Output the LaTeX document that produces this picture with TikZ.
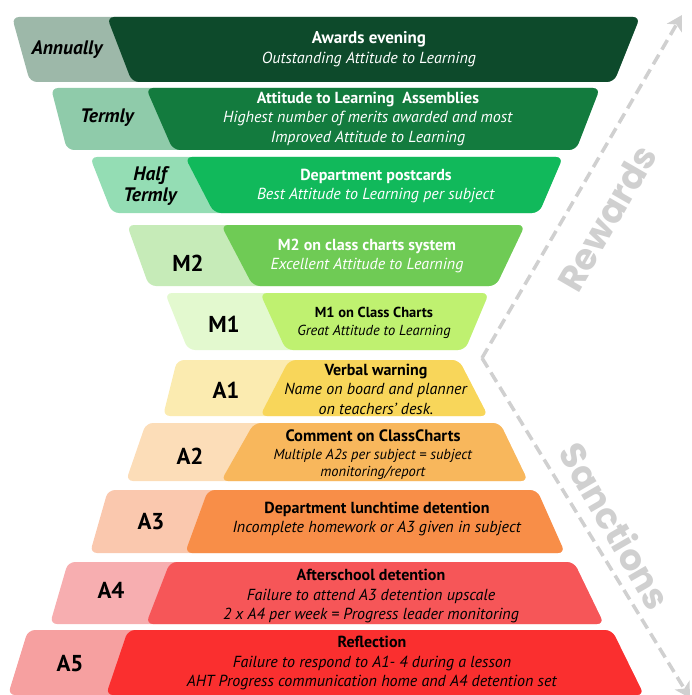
\documentclass[tikz,border=0pt]{standalone}
\usepackage{fontspec}
\setmainfont{PT Sans}
\newfontfamily\trackfont{Poppins}
\usepackage{color}
\usepackage{tikz}
\usetikzlibrary{arrows.meta}
\definecolor{annualback}{RGB}{157,184,169}
\definecolor{annualfront}{RGB}{13,74,43}
\definecolor{termback}{RGB}{143,203,170}
\definecolor{termfront}{RGB}{19,123,62}
\definecolor{halfback}{RGB}{148,221,180}
\definecolor{halffront}{RGB}{17,185,91}
\definecolor{mtwoback}{RGB}{198,235,184}
\definecolor{mtwofront}{RGB}{111,203,85}
\definecolor{moneback}{RGB}{227,249,207}
\definecolor{monefront}{RGB}{191,241,112}
\definecolor{aoneback}{RGB}{251,235,176}
\definecolor{aonefront}{RGB}{248,214,90}
\definecolor{atwoback}{RGB}{252,221,184}
\definecolor{atwofront}{RGB}{248,183,92}
\definecolor{athreeback}{RGB}{250,200,174}
\definecolor{athreefront}{RGB}{248,142,72}
\definecolor{afourback}{RGB}{247,174,176}
\definecolor{afourfront}{RGB}{246,86,88}
\definecolor{afiveback}{RGB}{246,160,160}
\definecolor{afivefront}{RGB}{250,47,47}
\definecolor{trackgrey}{RGB}{208,208,208}

\begin{document}
\begin{tikzpicture}[x=1pt,y=-1pt,
  band/.style={rounded corners=7pt},
  msg/.style={align=center,text=white,font=\fontsize{16}{19.5}\selectfont},
  lvl/.style={font=\fontsize{23}{26}\selectfont\bfseries},
  freq/.style={align=center,font=\fontsize{19.5}{21}\selectfont\bfseries\itshape},
  track/.style={draw=trackgrey,line width=3.5pt,dash pattern=on 11pt off 6pt,
    -{Stealth[length=15pt,width=17pt,inset=4pt]}},
  tracklabel/.style={text=trackgrey,font=\trackfont\fontsize{36}{38}\selectfont\bfseries}]
\useasboundingbox (0,0) rectangle (692,695);
\clip (0,0) rectangle (692,695);
% one band per level: y top / y bottom / light left / dark left / right edge
\foreach \ya/\yb/\xa/\xb/\xc/\xd/\xe/\xf/\lite/\dark in
  {17/82/12/30/107/132/640/614/annualback/annualfront,
   88/150/51/67/146/173/600/576/termback/termfront,
   157/213/90/112/185/214/563/539/halfback/halffront,
   225/286/127/149/221/253/525/496/mtwoback/mtwofront,
   293/350/165/188/260/286/489/465/moneback/monefront,
   360/416/177/163/289/260/459/488/aoneback/aonefront,
   423/481/146/126/254/221/500/528/atwoback/atwofront,
   490/553/108/90/208/185/537/565/athreeback/athreefront,
   562/624/68/50/170/146/574/604/afourback/afourfront,
   630/695/28/8/128/106/612/644/afiveback/afivefront}
{
  \fill[band,\lite] (\xa,\ya) -- (\xe,\ya) -- (\xf,\yb) -- (\xb,\yb) -- cycle;
  \fill[band,\dark] (\xc,\ya) -- (\xe,\ya) -- (\xf,\yb) -- (\xd,\yb) -- cycle;
}

% rewards
\node[freq] (annually) at (67,50) {Annually};
\node[msg,font=\fontsize{16}{20}\selectfont] (awards) at (369,49) {{\fontsize{17}{20}\selectfont\textbf{Awards evening}}\\\textit{Outstanding Attitude to Learning}};
\node[freq] (termly) at (107,118) {Termly};
\node[msg] (assemblies) at (368,119) {\textbf{Attitude to Learning\ \ Assemblies}\\\textit{Highest number of merits awarded and most}\\\textit{Improved Attitude to Learning}};
\node[freq] (halftermly) at (150,186) {Half\\Termly};
\node[msg] (postcards) at (376,186) {\textbf{Department postcards}\\\textit{Best Attitude to Learning per subject}};
\node[lvl] (mtwo) at (188,263) {M2};
\node[msg] (mtwomsg) at (367,256) {\textbf{M2 on class charts system}\\\textit{Excellent Attitude to Learning}};
\node[lvl] (mone) at (224,324) {M1};
\node[msg,text=black,font=\fontsize{14.5}{18}\selectfont] (monemsg) at (374,323) {\textbf{M1 on Class Charts}\\\textit{Great Attitude to Learning}};

% sanctions
\node[lvl] (aone) at (226,390) {A1};
\node[msg,text=black] (aonemsg) at (376,389) {\textbf{Verbal warning}\\\textit{Name on board and planner}\\\textit{on teachers' desk.}};
\node[lvl] (atwo) at (190,456) {A2};
\node[msg,text=black,font=\fontsize{14.5}{17.5}\selectfont] (atwomsg) at (373,455) {{\fontsize{16.5}{17.5}\selectfont\textbf{Comment on ClassCharts}}\\\textit{Multiple A2s per subject = subject}\\\textit{monitoring/report}};
\node[lvl] (athree) at (151,522) {A3};
\node[msg,text=black] (athreemsg) at (377,519) {\textbf{Department lunchtime detention}\\\textit{Incomplete homework or A3 given in subject}};
\node[lvl] (afour) at (111,590) {A4};
\node[msg,text=black] (afourmsg) at (371,596) {\textbf{Afterschool detention}\\\textit{Failure to attend A3 detention upscale}\\\textit{2 x A4 per week = Progress leader monitoring}};
\node[lvl] (afive) at (70,664) {A5};
\node[msg,text=black] (afivemsg) at (372,663) {\textbf{Reflection}\\\textit{Failure to respond to A1- 4 during a lesson}\\\textit{AHT Progress communication home and A4 detention set}};

% the two tracks
\coordinate (pivot) at (482,358);
\coordinate (rewardtip) at (682,15);
\coordinate (sanctiontip) at (690,698);
\draw[track] (pivot) -- (rewardtip);
\draw[track] (pivot) -- (sanctiontip);
\node[tracklabel,rotate=60] (rewards) at (607,218) {Rewards};
\node[tracklabel,rotate=-60] (sanctions) at (616,526) {Sanctions};
\end{tikzpicture}
\end{document}
